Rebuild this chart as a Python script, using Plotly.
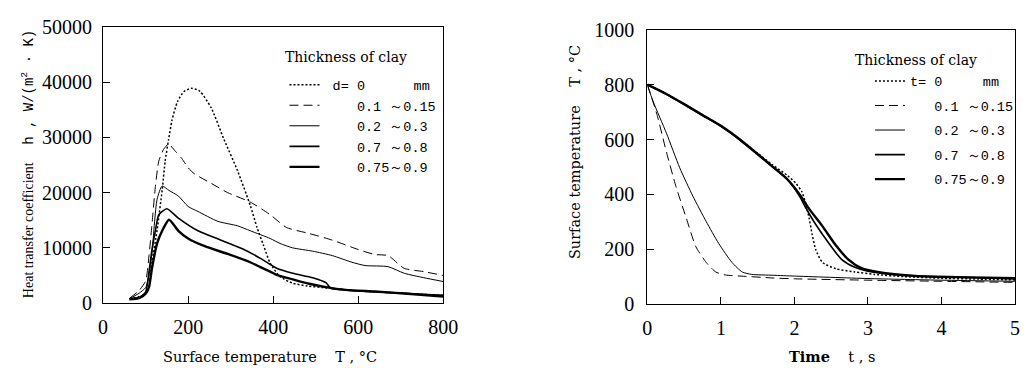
import plotly.graph_objects as go

NB = "\u00a0"

# ---------------- Left panel: heat transfer coefficient vs surface temperature
T_d0 = [62, 85, 100, 108, 115, 127, 139, 146, 154, 162, 175, 190, 208, 227, 254, 284, 316, 346, 362, 377, 393, 416, 446, 480, 520, 560, 600, 650, 700, 750, 800]
h_d0 = [800, 1200, 1700, 2900, 7400, 13200, 20500, 25700, 29600, 33100, 36500, 38300, 38900, 38400, 35400, 29700, 24000, 17700, 13700, 10500, 7200, 4800, 3600, 3100, 2800, 2500, 2200, 2000, 1800, 1600, 1400]

T_d1 = [62, 85, 100, 108, 115, 123, 131, 142, 154, 170, 185, 200, 215, 254, 293, 346, 393, 431, 485, 539, 600, 639, 670, 708, 754, 800]
h_d1 = [860, 2300, 4000, 8600, 14300, 21100, 25700, 27800, 28800, 27500, 26200, 24500, 23400, 21700, 20000, 18300, 16000, 13700, 12600, 11400, 9700, 8800, 8600, 6300, 5700, 5000]

T_d2 = [62, 85, 100, 108, 115, 127, 139, 155, 177, 200, 223, 270, 316, 346, 393, 416, 446, 493, 539, 585, 616, 670, 708, 754, 800]
h_d2 = [800, 1800, 2800, 5000, 9100, 18800, 21200, 20400, 19400, 17500, 16600, 14800, 14000, 13100, 11700, 10800, 10000, 9400, 8600, 7400, 6800, 6600, 5400, 4600, 3900]

T_d3 = [62, 85, 100, 108, 115, 123, 131, 150, 177, 223, 277, 331, 370, 393, 408, 446, 493, 524, 535, 570, 600, 650, 700, 750, 800]
h_d3 = [800, 1000, 2000, 5700, 9700, 13100, 16000, 17100, 15400, 13100, 11400, 9700, 8100, 7000, 6300, 5400, 4600, 3700, 2700, 2400, 2200, 2000, 1800, 1600, 1400]

T_d4 = [62, 85, 100, 108, 115, 127, 139, 155, 177, 200, 239, 293, 346, 370, 393, 408, 446, 485, 524, 570, 639, 716, 800]
h_d4 = [700, 900, 1700, 2900, 6300, 10800, 13100, 15100, 13100, 11700, 10300, 8900, 7400, 6500, 5700, 5100, 4300, 3500, 2900, 2400, 2100, 1700, 1200]

# ---------------- Right panel: surface temperature vs time
t_0 = [0, 0.25, 0.5, 0.75, 1.0, 1.25, 1.5, 1.7, 1.9, 2.02, 2.1, 2.15, 2.2, 2.24, 2.29, 2.38, 2.56, 2.82, 3.09, 3.5, 4.0, 4.5, 5.0]
T_0 = [800, 768, 730, 690, 650, 602, 550, 508, 470, 440, 410, 370, 313, 255, 198, 152, 129, 117, 108, 100, 94, 91, 88]

t_1 = [0, 0.13, 0.26, 0.39, 0.53, 0.66, 0.8, 0.93, 1.06, 1.33, 1.71, 2.0, 3.0, 4.0, 5.0]
T_1 = [800, 692, 554, 428, 313, 209, 152, 117, 106, 101, 95, 92, 87, 83, 79]

t_2 = [0, 0.08, 0.26, 0.44, 0.62, 0.8, 0.97, 1.15, 1.29, 1.42, 1.71, 2.0, 3.0, 4.0, 5.0]
T_2 = [800, 738, 623, 497, 393, 301, 221, 152, 117, 108, 105, 102, 93, 87, 83]

t_3 = [0, 0.25, 0.5, 0.75, 1.0, 1.25, 1.5, 1.7, 1.9, 2.07, 2.15, 2.29, 2.47, 2.64, 2.82, 3.0, 3.45, 4.0, 4.5, 5.0]
T_3 = [800, 767, 728, 688, 648, 600, 545, 500, 455, 393, 353, 290, 221, 163, 134, 120, 106, 100, 96, 92]

t_4 = [0, 0.25, 0.5, 0.75, 1.0, 1.25, 1.5, 1.7, 1.9, 2.07, 2.2, 2.38, 2.56, 2.73, 2.91, 3.13, 3.67, 4.2, 5.0]
T_4 = [800, 767, 729, 689, 650, 602, 547, 502, 456, 400, 347, 284, 215, 163, 131, 117, 102, 98, 94]

left_names = ["d= 0" + NB * 6 + "mm", NB * 3 + "0.1 ～0.15", NB * 3 + "0.2 ～0.3", NB * 3 + "0.7 ～0.8", NB * 3 + "0.75～0.9"]
right_names = ["t= 0" + NB * 5 + "mm", NB * 3 + "0.1 ～0.15", NB * 3 + "0.2 ～0.3", NB * 3 + "0.7 ～0.8", NB * 3 + "0.75～0.9"]
legend_title = "Thickness of clay"

styles = [
    dict(color="black", width=1.5, dash="2px,2px"),
    dict(color="black", width=1.0, dash="9px,5px"),
    dict(color="black", width=1.0),
    dict(color="black", width=1.6),
    dict(color="black", width=2.4),
]

left_series = [(T_d0, h_d0), (T_d1, h_d1), (T_d2, h_d2), (T_d3, h_d3), (T_d4, h_d4)]
right_series = [(t_0, T_0), (t_1, T_1), (t_2, T_2), (t_3, T_3), (t_4, T_4)]

fig = go.Figure()
for i, (xs, ys) in enumerate(left_series):
    fig.add_trace(go.Scatter(x=xs, y=ys, mode="lines", line=dict(**styles[i], shape="spline", smoothing=0.6),
                             name=NB + left_names[i], legend="legend", legendgroup="L%d" % i,
                             xaxis="x", yaxis="y"))
for i, (xs, ys) in enumerate(right_series):
    fig.add_trace(go.Scatter(x=xs, y=ys, mode="lines", line=dict(**styles[i], shape="spline", smoothing=0.6),
                             name=right_names[i], legend="legend2", legendgroup="R%d" % i,
                             xaxis="x2", yaxis="y2"))

W, H = 1035, 381
tickfont = dict(family="Liberation Serif", size=20, color="black")
axis_common = dict(showgrid=False, zeroline=False, showline=True, linecolor="black", linewidth=1.3,
                   mirror=True, ticks="inside", ticklen=7, tickwidth=1, tickcolor="black",
                   tickfont=tickfont, fixedrange=True)

leg_common = dict(bgcolor="rgba(0,0,0,0)", borderwidth=0, xanchor="left", yanchor="top",
                  font=dict(family="Liberation Mono", size=13.5, color="black"),
                  itemclick=False, itemdoubleclick=False)

fig.update_layout(
    width=W, height=H, margin=dict(l=0, r=0, t=0, b=0),
    paper_bgcolor="white", plot_bgcolor="white",
    xaxis=dict(domain=[100 / W, 447 / W], range=[0, 800], tickvals=[0, 200, 400, 600, 800],
               anchor="y", ticklabelstandoff=6, **axis_common),
    yaxis=dict(domain=[(H - 310) / H, (H - 17) / H], range=[0, 50000],
               tickvals=[0, 10000, 20000, 30000, 40000, 50000], tickformat="d",
               anchor="x", ticklabelstandoff=6, **axis_common),
    xaxis2=dict(domain=[655 / W, 1030 / W], range=[0, 5], tickvals=[0, 1, 2, 3, 4, 5],
                anchor="y2", ticklabelstandoff=6, **axis_common),
    yaxis2=dict(domain=[(H - 311) / H, (H - 20) / H], range=[0, 1000],
                tickvals=[0, 200, 400, 600, 800, 1000], tickformat="d",
                anchor="x2", ticklabelstandoff=8, **axis_common),
    legend=dict(x=285 / W, y=(H - 62) / H, tracegroupgap=0, **leg_common),
    legend2=dict(x=882 / W, y=(H - 58) / H, tracegroupgap=4, **leg_common),
    showlegend=True,
)

serif = "DejaVu Serif"
title_font = dict(family=serif, size=14.5, color="black")

def ann(text, x, y, angle=0, font=title_font):
    fig.add_annotation(text=text, xref="paper", yref="paper", x=x / W, y=(H - y) / H,
                       showarrow=False, textangle=angle, font=font,
                       xanchor="center", yanchor="middle")

# legend titles
ann(legend_title, 348, 49, font=dict(family=serif, size=14, color="black"))
ann(legend_title, 929, 52, font=dict(family=serif, size=14, color="black"))

# axis titles
ann("Heat transfer coefficient" + NB * 5 +
    "<span style='font-family:Liberation Mono'>h" + NB + "," + NB + "W/(m<sup>2</sup>" + NB + "·" + NB + "K)</span>",
    23, 163, angle=-90, font=dict(family="Liberation Serif", size=14, color="black"))
ann("Surface temperature" + NB * 4 + "T" + NB + "," + NB + "°C", 270, 367)
ann("Surface temperature" + NB * 4 + "T" + NB + "," + NB + "°C", 582, 150, angle=-90)
ann("<b>Time</b>" + NB * 4 + "t" + NB + "," + NB + "s", 843, 367)

fig.write_html("out.html")
